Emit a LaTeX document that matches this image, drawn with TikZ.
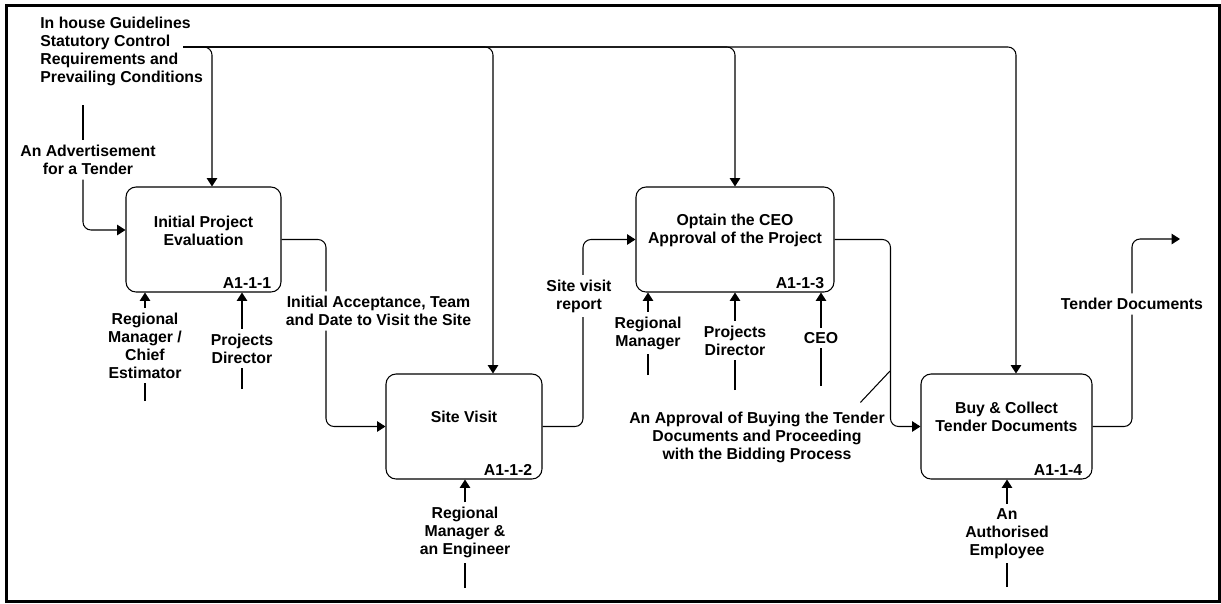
\documentclass[tikz,border=0pt]{standalone}
\usepackage{fontspec}
\setmainfont{Liberation Sans}
\usetikzlibrary{arrows.meta,calc}

\begin{document}
\begin{tikzpicture}[x=0.02cm,y=-0.02cm,
  every node/.style={align=center,font=\fontsize{9}{10.2}\selectfont\bfseries,inner sep=2.5pt},
  actbox/.style={draw,line width=0.6pt,rounded corners=0.2cm,minimum height=2.1cm},
  flow/.style={line width=0.6pt,rounded corners=0.16cm},
  into/.style={-{Triangle[length=4.8pt,width=6pt]}},
  idtag/.style={anchor=south east,inner sep=0pt}]
  \useasboundingbox (0,0) rectangle (1221,603);
  \draw[line width=1.7pt] (6.5,5.5) rectangle (1219.5,601.5);

  \node[actbox,minimum width=3.1cm] (box1) at (203.5,239.5) {};
  \node[actbox,minimum width=3.12cm] (box2) at (464,426.5) {};
  \node[actbox,minimum width=3.96cm] (box3) at (735,239.5) {};
  \node[actbox,minimum width=3.42cm] (box4) at (1006.5,426.5) {};
  \node (t1) at ([yshift=0.18cm]box1.center) {Initial Project\\Evaluation};
  \node (t2) at ([yshift=0.19cm]box2.center) {Site Visit};
  \node (t3) at ([yshift=0.18cm]box3.center) {Optain the CEO\\Approval of the Project};
  \node (t4) at ([yshift=0.19cm]box4.center) {Buy \& Collect\\Tender Documents};
  \node[idtag] (id1) at ([xshift=-0.2cm,yshift=0.07cm]box1.south east) {A1-1-1};
  \node[idtag] (id2) at ([xshift=-0.2cm,yshift=0.07cm]box2.south east) {A1-1-2};
  \node[idtag] (id3) at ([xshift=-0.2cm,yshift=0.07cm]box3.south east) {A1-1-3};
  \node[idtag] (id4) at ([xshift=-0.2cm,yshift=0.07cm]box4.south east) {A1-1-4};

  \node[anchor=west,align=left,inner sep=0pt] (guide) at (40,51.5) {In house Guidelines\\Statutory Control\\Requirements and\\Prevailing Conditions};
  \node (adv) at (88,160) {An Advertisement\\for a Tender};
  \node (acc) at (378.5,311) {Initial Acceptance, Team\\and Date to Visit the Site};
  \node (rmce) at (145,345.5) {Regional\\Manager /\\Chief\\Estimator};
  \node (pd1) at (242,348.5) {Projects\\Director};
  \node (rme) at (465,532.5) {Regional\\Manager \&\\an Engineer};
  \node (svr) at (579,296) {Site visit\\report};
  \node (rm3) at (648,333) {Regional\\Manager};
  \node (pd3) at (735,340.5) {Projects\\Director};
  \node (ceo) at (821,338) {CEO};
  \node (appr) at (757,437.5) {An Approval of Buying the Tender\\Documents and Proceeding\\with the Bidding Process};
  \node (emp) at (1007,533.5) {An\\Authorised\\Employee};
  \node (tdoc) at (1132,304) {Tender Documents};

  \coordinate (ctrl) at (183,47);
  \coordinate (adin) at (83,105);
  \coordinate (rmcein) at (145,401);
  \coordinate (pd1in) at (242,389);
  \coordinate (rmein) at (465,588);
  \coordinate (rm3in) at (648,375);
  \coordinate (pd3in) at (735,390);
  \coordinate (ceoin) at (821,386);
  \coordinate (empin) at (1007,587);
  \coordinate (apprmark) at (890,371);
  \coordinate (tout) at (1180,239);

  \draw[flow,into] (ctrl) -| ([xshift=0.17cm]box1.north);
  \draw[flow,into] (ctrl) -| ([xshift=0.58cm]box2.north);
  \draw[flow,into] (ctrl) -| (box3.north);
  \draw[flow,into] (ctrl) -| ([xshift=0.19cm]box4.north);

  \draw[flow] (adin) -- (adin |- adv.north);
  \draw[flow,into] (adin |- adv.south) |- ([yshift=0.19cm]box1.west);
  \draw[flow] (box1.east) -| ([xshift=-1.05cm]acc.north);
  \draw[flow,into] ([xshift=-1.05cm]acc.south) |- (box2.west);
  \draw[flow] (box2.east) -| ([xshift=0.08cm]svr.south);
  \draw[flow,into] ([xshift=0.08cm]svr.north) |- (box3.west);
  \draw[flow,into] (box3.east) -- ++(1.12cm,0) |- (box4.west);
  \draw[line width=0.6pt] ([xshift=-0.58cm,yshift=0.1cm]appr.north east) -- (apprmark);
  \draw[flow] (box4.east) -| (tdoc.south);
  \draw[flow,into] (tdoc.north) |- (tout);

  \draw[flow] (rmcein) -- (rmce);
  \draw[flow,into] (rmce) -- (rmce |- box1.south);
  \draw[flow] (pd1in) -- (pd1);
  \draw[flow,into] (pd1) -- (pd1 |- box1.south);
  \draw[flow] (rmein) -- (rme);
  \draw[flow,into] (rme) -- (rme |- box2.south);
  \draw[flow] (rm3in) -- (rm3);
  \draw[flow,into] (rm3) -- (rm3 |- box3.south);
  \draw[flow] (pd3in) -- (pd3);
  \draw[flow,into] (pd3) -- (pd3 |- box3.south);
  \draw[flow] (ceoin) -- (ceo);
  \draw[flow,into] (ceo) -- (ceo |- box3.south);
  \draw[flow] (empin) -- (emp);
  \draw[flow,into] (emp) -- (emp |- box4.south);
\end{tikzpicture}
\end{document}
